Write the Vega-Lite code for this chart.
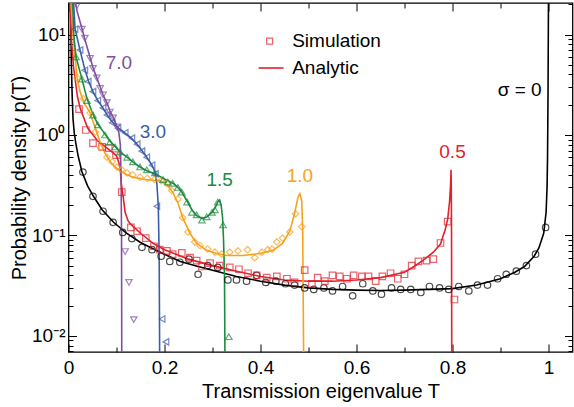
{
"$schema": "https://vega.github.io/schema/vega-lite/v6.json",
"width": 504, "height": 349,
"autosize": {"type": "none"},
"padding": {"left": 68.5, "top": 3, "right": 1.5, "bottom": 55},
"config": {"font": "Liberation Sans", "view": {"stroke": "black", "strokeWidth": 1.3},
  "axis": {"domain": false, "grid": false, "tickColor": "black", "tickWidth": 1, "labelColor": "black", "titleColor": "black", "labelFontSize": 19, "titleFontSize": 20, "titleFontWeight": "normal", "labelFlush": false, "labelOverlap": false}},
"datasets": {
"lines": [
{"s":"0","T":0.004,"p":22},{"s":"0","T":0.005,"p":12},{"s":"0","T":0.006,"p":5},{"s":"0","T":0.0075,"p":2.6},{"s":"0","T":0.0094,"p":1.45},{"s":"0","T":0.012,"p":1.05},{"s":"0","T":0.015,"p":0.84},{"s":"0","T":0.02,"p":0.62},{"s":"0","T":0.028,"p":0.43},{"s":"0","T":0.04,"p":0.31},{"s":"0","T":0.052,"p":0.245},{"s":"0","T":0.07,"p":0.18},{"s":"0","T":0.094,"p":0.135},{"s":"0","T":0.12,"p":0.106},{"s":"0","T":0.15,"p":0.085},{"s":"0","T":0.175,"p":0.074},{"s":"0","T":0.2,"p":0.065},{"s":"0","T":0.233,"p":0.055},{"s":"0","T":0.27,"p":0.049},{"s":"0","T":0.3,"p":0.045},{"s":"0","T":0.35,"p":0.039},{"s":"0","T":0.4,"p":0.035},{"s":"0","T":0.45,"p":0.032},{"s":"0","T":0.5,"p":0.030},{"s":"0","T":0.55,"p":0.029},{"s":"0","T":0.6,"p":0.0285},{"s":"0","T":0.65,"p":0.0283},{"s":"0","T":0.7,"p":0.0285},{"s":"0","T":0.75,"p":0.029},{"s":"0","T":0.8,"p":0.0295},{"s":"0","T":0.85,"p":0.032},{"s":"0","T":0.9,"p":0.037},{"s":"0","T":0.93,"p":0.043},{"s":"0","T":0.95,"p":0.049},{"s":"0","T":0.97,"p":0.062},{"s":"0","T":0.98,"p":0.075},{"s":"0","T":0.99,"p":0.105},{"s":"0","T":0.995,"p":0.17},{"s":"0","T":0.997,"p":0.3},{"s":"0","T":0.998,"p":0.6},{"s":"0","T":0.999,"p":2.5},{"s":"0","T":1.0,"p":25},
{"s":"0.5","T":0.003,"p":22},{"s":"0.5","T":0.006,"p":9},{"s":"0.5","T":0.0104,"p":4.8},{"s":"0.5","T":0.0187,"p":2.4},{"s":"0.5","T":0.025,"p":1.8},{"s":"0.5","T":0.04,"p":1.17},{"s":"0.5","T":0.06,"p":0.88},{"s":"0.5","T":0.087,"p":0.70},{"s":"0.5","T":0.1,"p":0.62},{"s":"0.5","T":0.105,"p":0.53},{"s":"0.5","T":0.108,"p":0.45},{"s":"0.5","T":0.110,"p":0.33},{"s":"0.5","T":0.114,"p":0.24},{"s":"0.5","T":0.118,"p":0.17},{"s":"0.5","T":0.124,"p":0.14},{"s":"0.5","T":0.129,"p":0.13},{"s":"0.5","T":0.15,"p":0.105},{"s":"0.5","T":0.177,"p":0.083},{"s":"0.5","T":0.2,"p":0.072},{"s":"0.5","T":0.25,"p":0.058},{"s":"0.5","T":0.3,"p":0.050},{"s":"0.5","T":0.35,"p":0.044},{"s":"0.5","T":0.4,"p":0.039},{"s":"0.5","T":0.45,"p":0.036},{"s":"0.5","T":0.5,"p":0.035},{"s":"0.5","T":0.55,"p":0.035},{"s":"0.5","T":0.6,"p":0.036},{"s":"0.5","T":0.65,"p":0.038},{"s":"0.5","T":0.7,"p":0.043},{"s":"0.5","T":0.72,"p":0.049},{"s":"0.5","T":0.74,"p":0.057},{"s":"0.5","T":0.76,"p":0.068},{"s":"0.5","T":0.775,"p":0.082},{"s":"0.5","T":0.785,"p":0.115},{"s":"0.5","T":0.79,"p":0.145},{"s":"0.5","T":0.794,"p":0.22},{"s":"0.5","T":0.796,"p":0.32},{"s":"0.5","T":0.797,"p":0.45},{"s":"0.5","T":0.7975,"p":0.3},{"s":"0.5","T":0.798,"p":0.1},{"s":"0.5","T":0.7985,"p":0.005},
{"s":"1.0","T":0.005,"p":22},{"s":"1.0","T":0.008,"p":12},{"s":"1.0","T":0.011,"p":8},{"s":"1.0","T":0.018,"p":3.7},{"s":"1.0","T":0.024,"p":2.7},{"s":"1.0","T":0.032,"p":2.1},{"s":"1.0","T":0.045,"p":1.66},{"s":"1.0","T":0.055,"p":1.2},{"s":"1.0","T":0.066,"p":0.85},{"s":"1.0","T":0.076,"p":0.66},{"s":"1.0","T":0.086,"p":0.55},{"s":"1.0","T":0.097,"p":0.48},{"s":"1.0","T":0.107,"p":0.44},{"s":"1.0","T":0.118,"p":0.41},{"s":"1.0","T":0.134,"p":0.38},{"s":"1.0","T":0.159,"p":0.36},{"s":"1.0","T":0.19,"p":0.35},{"s":"1.0","T":0.205,"p":0.32},{"s":"1.0","T":0.217,"p":0.27},{"s":"1.0","T":0.228,"p":0.21},{"s":"1.0","T":0.238,"p":0.15},{"s":"1.0","T":0.253,"p":0.105},{"s":"1.0","T":0.267,"p":0.083},{"s":"1.0","T":0.288,"p":0.071},{"s":"1.0","T":0.309,"p":0.066},{"s":"1.0","T":0.33,"p":0.063},{"s":"1.0","T":0.363,"p":0.063},{"s":"1.0","T":0.399,"p":0.066},{"s":"1.0","T":0.426,"p":0.071},{"s":"1.0","T":0.446,"p":0.083},{"s":"1.0","T":0.461,"p":0.11},{"s":"1.0","T":0.471,"p":0.165},{"s":"1.0","T":0.478,"p":0.24},{"s":"1.0","T":0.482,"p":0.26},{"s":"1.0","T":0.486,"p":0.22},{"s":"1.0","T":0.488,"p":0.105},{"s":"1.0","T":0.490,"p":0.005},
{"s":"1.5","T":0.0083,"p":22},{"s":"1.5","T":0.011,"p":10},{"s":"1.5","T":0.0156,"p":6.0},{"s":"1.5","T":0.028,"p":3.6},{"s":"1.5","T":0.0385,"p":2.3},{"s":"1.5","T":0.051,"p":1.6},{"s":"1.5","T":0.061,"p":1.28},{"s":"1.5","T":0.076,"p":1.02},{"s":"1.5","T":0.086,"p":0.87},{"s":"1.5","T":0.097,"p":0.77},{"s":"1.5","T":0.107,"p":0.68},{"s":"1.5","T":0.122,"p":0.60},{"s":"1.5","T":0.134,"p":0.54},{"s":"1.5","T":0.149,"p":0.48},{"s":"1.5","T":0.163,"p":0.44},{"s":"1.5","T":0.18,"p":0.41},{"s":"1.5","T":0.197,"p":0.37},{"s":"1.5","T":0.21,"p":0.345},{"s":"1.5","T":0.22,"p":0.325},{"s":"1.5","T":0.228,"p":0.30},{"s":"1.5","T":0.236,"p":0.27},{"s":"1.5","T":0.247,"p":0.22},{"s":"1.5","T":0.257,"p":0.18},{"s":"1.5","T":0.267,"p":0.157},{"s":"1.5","T":0.278,"p":0.148},{"s":"1.5","T":0.288,"p":0.152},{"s":"1.5","T":0.299,"p":0.17},{"s":"1.5","T":0.306,"p":0.19},{"s":"1.5","T":0.311,"p":0.215},{"s":"1.5","T":0.315,"p":0.225},{"s":"1.5","T":0.318,"p":0.2},{"s":"1.5","T":0.321,"p":0.15},{"s":"1.5","T":0.323,"p":0.09},{"s":"1.5","T":0.325,"p":0.04},{"s":"1.5","T":0.326,"p":0.005},
{"s":"3.0","T":0.0104,"p":22},{"s":"3.0","T":0.0135,"p":11.5},{"s":"3.0","T":0.024,"p":7.0},{"s":"3.0","T":0.034,"p":4.5},{"s":"3.0","T":0.041,"p":3.5},{"s":"3.0","T":0.051,"p":2.7},{"s":"3.0","T":0.061,"p":2.2},{"s":"3.0","T":0.072,"p":1.85},{"s":"3.0","T":0.08,"p":1.6},{"s":"3.0","T":0.091,"p":1.35},{"s":"3.0","T":0.103,"p":1.18},{"s":"3.0","T":0.118,"p":1.04},{"s":"3.0","T":0.132,"p":0.92},{"s":"3.0","T":0.143,"p":0.81},{"s":"3.0","T":0.153,"p":0.70},{"s":"3.0","T":0.163,"p":0.60},{"s":"3.0","T":0.174,"p":0.50},{"s":"3.0","T":0.18,"p":0.43},{"s":"3.0","T":0.184,"p":0.33},{"s":"3.0","T":0.187,"p":0.2},{"s":"3.0","T":0.189,"p":0.06},{"s":"3.0","T":0.190,"p":0.005},
{"s":"7.0","T":0.0135,"p":22},{"s":"7.0","T":0.018,"p":17},{"s":"7.0","T":0.028,"p":11.5},{"s":"7.0","T":0.034,"p":9},{"s":"7.0","T":0.045,"p":5.9},{"s":"7.0","T":0.051,"p":4.7},{"s":"7.0","T":0.059,"p":3.7},{"s":"7.0","T":0.066,"p":3.0},{"s":"7.0","T":0.072,"p":2.5},{"s":"7.0","T":0.08,"p":2.1},{"s":"7.0","T":0.086,"p":1.75},{"s":"7.0","T":0.093,"p":1.5},{"s":"7.0","T":0.101,"p":1.22},{"s":"7.0","T":0.105,"p":1.05},{"s":"7.0","T":0.108,"p":0.8},{"s":"7.0","T":0.1095,"p":0.4},{"s":"7.0","T":0.1105,"p":0.1},{"s":"7.0","T":0.111,"p":0.005}
],
"sim": [
{"s":"0","T":0.030,"p":0.427},{"s":"0","T":0.051,"p":0.245},{"s":"0","T":0.072,"p":0.174},{"s":"0","T":0.093,"p":0.135},{"s":"0","T":0.113,"p":0.107},{"s":"0","T":0.132,"p":0.093},{"s":"0","T":0.153,"p":0.076},{"s":"0","T":0.174,"p":0.072},{"s":"0","T":0.193,"p":0.062},{"s":"0","T":0.211,"p":0.055},{"s":"0","T":0.232,"p":0.054},{"s":"0","T":0.251,"p":0.058},{"s":"0","T":0.270,"p":0.041},{"s":"0","T":0.290,"p":0.050},{"s":"0","T":0.311,"p":0.048},{"s":"0","T":0.332,"p":0.036},{"s":"0","T":0.350,"p":0.036},{"s":"0","T":0.371,"p":0.035},{"s":"0","T":0.392,"p":0.040},{"s":"0","T":0.411,"p":0.034},{"s":"0","T":0.432,"p":0.035},{"s":"0","T":0.452,"p":0.033},{"s":"0","T":0.471,"p":0.032},{"s":"0","T":0.492,"p":0.030},{"s":"0","T":0.511,"p":0.029},{"s":"0","T":0.532,"p":0.030},{"s":"0","T":0.550,"p":0.028},{"s":"0","T":0.571,"p":0.031},{"s":"0","T":0.592,"p":0.025},{"s":"0","T":0.613,"p":0.033},{"s":"0","T":0.634,"p":0.028},{"s":"0","T":0.652,"p":0.026},{"s":"0","T":0.673,"p":0.030},{"s":"0","T":0.692,"p":0.029},{"s":"0","T":0.713,"p":0.029},{"s":"0","T":0.734,"p":0.027},{"s":"0","T":0.752,"p":0.031},{"s":"0","T":0.773,"p":0.030},{"s":"0","T":0.792,"p":0.029},{"s":"0","T":0.813,"p":0.031},{"s":"0","T":0.834,"p":0.028},{"s":"0","T":0.852,"p":0.032},{"s":"0","T":0.873,"p":0.032},{"s":"0","T":0.894,"p":0.037},{"s":"0","T":0.912,"p":0.041},{"s":"0","T":0.933,"p":0.044},{"s":"0","T":0.954,"p":0.050},{"s":"0","T":0.973,"p":0.065},{"s":"0","T":0.994,"p":0.12},
{"s":"0.5","T":0.022,"p":1.81},{"s":"0.5","T":0.036,"p":1.12},{"s":"0.5","T":0.051,"p":0.83},{"s":"0.5","T":0.070,"p":0.76},{"s":"0.5","T":0.084,"p":0.74},{"s":"0.5","T":0.099,"p":0.63},{"s":"0.5","T":0.111,"p":0.27},{"s":"0.5","T":0.130,"p":0.12},{"s":"0.5","T":0.143,"p":0.11},{"s":"0.5","T":0.161,"p":0.094},{"s":"0.5","T":0.178,"p":0.078},{"s":"0.5","T":0.19,"p":0.072},{"s":"0.5","T":0.205,"p":0.07},{"s":"0.5","T":0.217,"p":0.065},{"s":"0.5","T":0.236,"p":0.067},{"s":"0.5","T":0.253,"p":0.06},{"s":"0.5","T":0.267,"p":0.056},{"s":"0.5","T":0.278,"p":0.049},{"s":"0.5","T":0.295,"p":0.053},{"s":"0.5","T":0.315,"p":0.05},{"s":"0.5","T":0.336,"p":0.048},{"s":"0.5","T":0.355,"p":0.046},{"s":"0.5","T":0.374,"p":0.042},{"s":"0.5","T":0.392,"p":0.04},{"s":"0.5","T":0.413,"p":0.038},{"s":"0.5","T":0.434,"p":0.039},{"s":"0.5","T":0.455,"p":0.037},{"s":"0.5","T":0.471,"p":0.034},{"s":"0.5","T":0.492,"p":0.045},{"s":"0.5","T":0.507,"p":0.033},{"s":"0.5","T":0.519,"p":0.038},{"s":"0.5","T":0.534,"p":0.035},{"s":"0.5","T":0.55,"p":0.04},{"s":"0.5","T":0.565,"p":0.039},{"s":"0.5","T":0.58,"p":0.037},{"s":"0.5","T":0.594,"p":0.04},{"s":"0.5","T":0.611,"p":0.039},{"s":"0.5","T":0.625,"p":0.039},{"s":"0.5","T":0.64,"p":0.035},{"s":"0.5","T":0.654,"p":0.039},{"s":"0.5","T":0.671,"p":0.042},{"s":"0.5","T":0.686,"p":0.037},{"s":"0.5","T":0.70,"p":0.041},{"s":"0.5","T":0.715,"p":0.05},{"s":"0.5","T":0.729,"p":0.055},{"s":"0.5","T":0.746,"p":0.056},{"s":"0.5","T":0.76,"p":0.058},{"s":"0.5","T":0.775,"p":0.084},{"s":"0.5","T":0.790,"p":0.137},{"s":"0.5","T":0.804,"p":0.023},
{"s":"1.0","T":0.018,"p":3.7},{"s":"1.0","T":0.031,"p":2.3},{"s":"1.0","T":0.045,"p":1.66},{"s":"1.0","T":0.056,"p":1.07},{"s":"1.0","T":0.066,"p":0.75},{"s":"1.0","T":0.080,"p":0.60},{"s":"1.0","T":0.091,"p":0.54},{"s":"1.0","T":0.101,"p":0.48},{"s":"1.0","T":0.111,"p":0.45},{"s":"1.0","T":0.122,"p":0.42},{"s":"1.0","T":0.134,"p":0.40},{"s":"1.0","T":0.149,"p":0.38},{"s":"1.0","T":0.164,"p":0.37},{"s":"1.0","T":0.179,"p":0.36},{"s":"1.0","T":0.193,"p":0.35},{"s":"1.0","T":0.205,"p":0.33},{"s":"1.0","T":0.215,"p":0.28},{"s":"1.0","T":0.228,"p":0.23},{"s":"1.0","T":0.238,"p":0.15},{"s":"1.0","T":0.249,"p":0.108},{"s":"1.0","T":0.263,"p":0.086},{"s":"1.0","T":0.274,"p":0.079},{"s":"1.0","T":0.29,"p":0.073},{"s":"1.0","T":0.305,"p":0.068},{"s":"1.0","T":0.319,"p":0.065},{"s":"1.0","T":0.336,"p":0.068},{"s":"1.0","T":0.353,"p":0.07},{"s":"1.0","T":0.373,"p":0.072},{"s":"1.0","T":0.388,"p":0.06},{"s":"1.0","T":0.403,"p":0.068},{"s":"1.0","T":0.415,"p":0.072},{"s":"1.0","T":0.424,"p":0.073},{"s":"1.0","T":0.434,"p":0.086},{"s":"1.0","T":0.446,"p":0.094},{"s":"1.0","T":0.461,"p":0.108},{"s":"1.0","T":0.473,"p":0.164},{"s":"1.0","T":0.486,"p":0.122},
{"s":"1.5","T":0.0156,"p":6.0},{"s":"1.5","T":0.028,"p":3.6},{"s":"1.5","T":0.0385,"p":2.2},{"s":"1.5","T":0.051,"p":1.58},{"s":"1.5","T":0.061,"p":1.26},{"s":"1.5","T":0.076,"p":1.0},{"s":"1.5","T":0.086,"p":0.85},{"s":"1.5","T":0.097,"p":0.76},{"s":"1.5","T":0.107,"p":0.68},{"s":"1.5","T":0.122,"p":0.60},{"s":"1.5","T":0.134,"p":0.54},{"s":"1.5","T":0.149,"p":0.48},{"s":"1.5","T":0.163,"p":0.45},{"s":"1.5","T":0.18,"p":0.42},{"s":"1.5","T":0.197,"p":0.36},{"s":"1.5","T":0.207,"p":0.34},{"s":"1.5","T":0.217,"p":0.33},{"s":"1.5","T":0.228,"p":0.30},{"s":"1.5","T":0.236,"p":0.27},{"s":"1.5","T":0.247,"p":0.215},{"s":"1.5","T":0.257,"p":0.17},{"s":"1.5","T":0.267,"p":0.16},{"s":"1.5","T":0.278,"p":0.142},{"s":"1.5","T":0.288,"p":0.153},{"s":"1.5","T":0.299,"p":0.17},{"s":"1.5","T":0.305,"p":0.18},{"s":"1.5","T":0.311,"p":0.215},{"s":"1.5","T":0.322,"p":0.127},{"s":"1.5","T":0.334,"p":0.0098},
{"s":"3.0","T":0.0135,"p":11.3},{"s":"3.0","T":0.024,"p":7.0},{"s":"3.0","T":0.034,"p":4.4},{"s":"3.0","T":0.041,"p":3.4},{"s":"3.0","T":0.051,"p":2.7},{"s":"3.0","T":0.061,"p":2.2},{"s":"3.0","T":0.072,"p":1.86},{"s":"3.0","T":0.080,"p":1.58},{"s":"3.0","T":0.091,"p":1.32},{"s":"3.0","T":0.103,"p":1.17},{"s":"3.0","T":0.118,"p":1.05},{"s":"3.0","T":0.132,"p":0.93},{"s":"3.0","T":0.143,"p":0.81},{"s":"3.0","T":0.153,"p":0.69},{"s":"3.0","T":0.163,"p":0.60},{"s":"3.0","T":0.174,"p":0.50},{"s":"3.0","T":0.181,"p":0.41},{"s":"3.0","T":0.184,"p":0.195},{"s":"3.0","T":0.195,"p":0.0147},{"s":"3.0","T":0.203,"p":0.0087},
{"s":"7.0","T":0.018,"p":19.6},{"s":"7.0","T":0.028,"p":11.3},{"s":"7.0","T":0.034,"p":9.2},{"s":"7.0","T":0.045,"p":5.8},{"s":"7.0","T":0.051,"p":4.6},{"s":"7.0","T":0.059,"p":3.7},{"s":"7.0","T":0.066,"p":2.9},{"s":"7.0","T":0.072,"p":2.5},{"s":"7.0","T":0.080,"p":2.1},{"s":"7.0","T":0.086,"p":1.69},{"s":"7.0","T":0.093,"p":1.48},{"s":"7.0","T":0.101,"p":1.2},{"s":"7.0","T":0.118,"p":0.069},{"s":"7.0","T":0.126,"p":0.034},{"s":"7.0","T":0.136,"p":0.0145}
],
"labels": [
{"s":"7.0","T":0.105,"p":5.2,"text":"7.0"},{"s":"3.0","T":0.176,"p":1.07,"text":"3.0"},{"s":"1.5","T":0.315,"p":0.356,"text":"1.5"},{"s":"1.0","T":0.482,"p":0.39,"text":"1.0"},{"s":"0.5","T":0.80,"p":0.68,"text":"0.5"},{"s":"0","T":0.94,"p":2.8,"text":"σ = 0"}
],
"legpt": [{"s":"0.5","T":0.419,"p":8.61}],
"legline": [{"s":"0.5","T":0.396,"p":4.64},{"s":"0.5","T":0.448,"p":4.64}],
"legtext": [{"T":0.466,"p":8.61,"text":"Simulation"},{"T":0.466,"p":4.64,"text":"Analytic"}]
},
"layer": [
{"data": {"name": "lines"},
 "mark": {"type": "line", "clip": true, "strokeWidth": 1.6},
 "encoding": {
  "x": {"field": "T", "type": "quantitative", "scale": {"domain": [0, 1.05], "nice": false, "zero": false},
    "axis": {"orient": "bottom", "values": [0,0.1,0.2,0.3,0.4,0.5,0.6,0.7,0.8,0.9,1],
      "labelExpr": "abs(datum.value*5-round(datum.value*5))<0.01 ? (datum.value==0 ? '0' : datum.value==1 ? '1' : format(datum.value,'.1f')) : ''",
      "tickSize": {"condition": {"test": "abs(datum.value*5-round(datum.value*5))<0.01", "value": -8}, "value": -5},
      "labelPadding": 14, "title": "Transmission eigenvalue T", "titlePadding": 1}},
  "y": {"field": "p", "type": "quantitative", "scale": {"type": "log", "domain": [0.0069, 20.6], "nice": false},
    "axis": {"orient": "left", "values": [0.007,0.008,0.009,0.01,0.02,0.03,0.04,0.05,0.06,0.07,0.08,0.09,0.1,0.2,0.3,0.4,0.5,0.6,0.7,0.8,0.9,1,2,3,4,5,6,7,8,9,10,20],
      "labelExpr": "datum.value==0.01 ? '10⁻²' : datum.value==0.1 ? '10⁻¹' : datum.value==1 ? '10⁰' : datum.value==10 ? '10¹' : ''",
      "tickSize": {"condition": {"test": "datum.value==0.01||datum.value==0.1||datum.value==1||datum.value==10", "value": -8}, "value": -4.5},
      "labelPadding": 11.5, "title": "Probability density p(T)", "titlePadding": 2}},
  "color": {"field": "s", "type": "nominal", "legend": null,
    "scale": {"domain": ["0","0.5","1.0","1.5","3.0","7.0"], "range": ["#000000","#e2212c","#f7a21b","#1b8b3d","#3b5ca9","#7f4fa0"]}}
 }},
{"data": {"name": "sim"},
 "mark": {"type": "point", "clip": true, "filled": false, "strokeWidth": 1.2, "size": 42},
 "encoding": {
  "x": {"field": "T", "type": "quantitative", "scale": {"domain": [0, 1.05], "nice": false, "zero": false},
    "axis": {"orient": "top", "values": [0,0.1,0.2,0.3,0.4,0.5,0.6,0.7,0.8,0.9,1], "labels": false, "title": null,
      "tickSize": {"condition": {"test": "abs(datum.value*5-round(datum.value*5))<0.01", "value": -8}, "value": -5}}},
  "y": {"field": "p", "type": "quantitative", "scale": {"type": "log", "domain": [0.0069, 20.6], "nice": false},
    "axis": {"orient": "right", "values": [0.007,0.008,0.009,0.01,0.02,0.03,0.04,0.05,0.06,0.07,0.08,0.09,0.1,0.2,0.3,0.4,0.5,0.6,0.7,0.8,0.9,1,2,3,4,5,6,7,8,9,10,20], "labels": false, "title": null,
      "tickSize": {"condition": {"test": "datum.value==0.01||datum.value==0.1||datum.value==1||datum.value==10", "value": -8}, "value": -4.5}}},
  "color": {"field": "s", "type": "nominal", "legend": null,
    "scale": {"domain": ["0","0.5","1.0","1.5","3.0","7.0"], "range": ["#000000","#e2212c","#f7a21b","#1b8b3d","#3b5ca9","#7f4fa0"]}},
  "shape": {"field": "s", "type": "nominal", "legend": null,
    "scale": {"domain": ["0","0.5","1.0","1.5","3.0","7.0"], "range": ["circle","square","diamond","triangle-up","triangle-left","triangle-down"]}}
 }},
{"data": {"name": "labels"},
 "mark": {"type": "text", "fontSize": 19, "align": "center", "baseline": "middle"},
 "encoding": {
  "x": {"field": "T", "type": "quantitative", "axis": null, "scale": {"domain": [0, 1.05], "nice": false, "zero": false}},
  "y": {"field": "p", "type": "quantitative", "axis": null, "scale": {"type": "log", "domain": [0.0069, 20.6], "nice": false}},
  "text": {"field": "text"},
  "color": {"field": "s", "type": "nominal", "legend": null,
    "scale": {"domain": ["0","0.5","1.0","1.5","3.0","7.0"], "range": ["#000000","#e2212c","#f7a21b","#1b8b3d","#3b5ca9","#7f4fa0"]}}
 }},
{"data": {"name": "legpt"},
 "mark": {"type": "point", "filled": false, "strokeWidth": 1.2, "size": 36},
 "encoding": {
  "x": {"field": "T", "type": "quantitative", "axis": null, "scale": {"domain": [0, 1.05], "nice": false, "zero": false}},
  "y": {"field": "p", "type": "quantitative", "axis": null, "scale": {"type": "log", "domain": [0.0069, 20.6], "nice": false}},
  "color": {"field": "s", "type": "nominal", "legend": null,
    "scale": {"domain": ["0","0.5","1.0","1.5","3.0","7.0"], "range": ["#000000","#e2212c","#f7a21b","#1b8b3d","#3b5ca9","#7f4fa0"]}},
  "shape": {"field": "s", "type": "nominal", "legend": null,
    "scale": {"domain": ["0","0.5","1.0","1.5","3.0","7.0"], "range": ["circle","square","diamond","triangle-up","triangle-left","triangle-down"]}}
 }},
{"data": {"name": "legline"},
 "mark": {"type": "line", "strokeWidth": 1.6},
 "encoding": {
  "x": {"field": "T", "type": "quantitative", "axis": null, "scale": {"domain": [0, 1.05], "nice": false, "zero": false}},
  "y": {"field": "p", "type": "quantitative", "axis": null, "scale": {"type": "log", "domain": [0.0069, 20.6], "nice": false}},
  "color": {"field": "s", "type": "nominal", "legend": null,
    "scale": {"domain": ["0","0.5","1.0","1.5","3.0","7.0"], "range": ["#000000","#e2212c","#f7a21b","#1b8b3d","#3b5ca9","#7f4fa0"]}}
 }},
{"data": {"name": "legtext"},
 "mark": {"type": "text", "fontSize": 19, "align": "left", "baseline": "middle", "color": "black"},
 "encoding": {
  "x": {"field": "T", "type": "quantitative", "axis": null, "scale": {"domain": [0, 1.05], "nice": false, "zero": false}},
  "y": {"field": "p", "type": "quantitative", "axis": null, "scale": {"type": "log", "domain": [0.0069, 20.6], "nice": false}},
  "text": {"field": "text"}
 }}
],
"resolve": {"axis": {"x": "independent", "y": "independent"}}
}
